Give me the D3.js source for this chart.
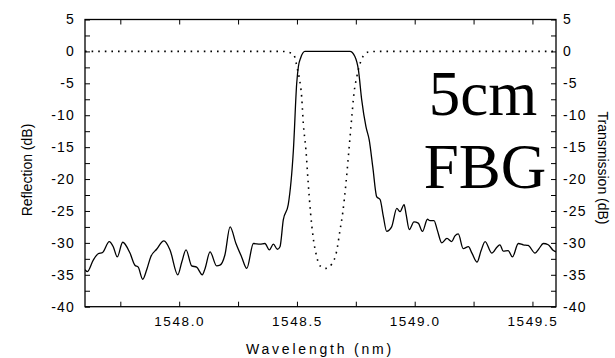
<!DOCTYPE html>
<html>
<head>
<meta charset="utf-8">
<script src="https://cdn.jsdelivr.net/npm/d3@7/dist/d3.min.js"></script>
<style>
  html, body { margin: 0; padding: 0; background: #fff; }
  svg { display: block; }
</style>
</head>
<body>
<script>
// Reflection spectrum of the grating (solid line), wavelength in nm and level in dB
const reflWavelength = [
  1547.600, 1547.610, 1547.635, 1547.656, 1547.675, 1547.703, 1547.720, 1547.737,
  1547.760, 1547.791, 1547.812, 1547.826, 1547.845, 1547.862, 1547.879, 1547.904,
  1547.935, 1547.961, 1547.994, 1548.011, 1548.029, 1548.053, 1548.074, 1548.098,
  1548.110, 1548.131, 1548.159, 1548.173, 1548.194, 1548.216, 1548.241, 1548.265,
  1548.287, 1548.315, 1548.343, 1548.364, 1548.383, 1548.400, 1548.417, 1548.428,
  1548.442, 1548.463, 1548.485, 1548.499, 1548.506, 1548.516, 1548.534, 1548.640,
  1548.725, 1548.746, 1548.761, 1548.775, 1548.793, 1548.807, 1548.822, 1548.839,
  1548.853, 1548.867, 1548.881, 1548.902, 1548.924, 1548.938, 1548.955, 1548.963,
  1548.977, 1548.997, 1549.015, 1549.033, 1549.054, 1549.065, 1549.082, 1549.096,
  1549.115, 1549.137, 1549.157, 1549.171, 1549.185, 1549.206, 1549.228, 1549.243,
  1549.265, 1549.282, 1549.299, 1549.327, 1549.351, 1549.362, 1549.376, 1549.397,
  1549.415, 1549.440, 1549.461, 1549.482, 1549.511, 1549.528, 1549.546, 1549.567,
  1549.589, 1549.600
];
const reflDb = [
  -34.2, -34.5, -32.7, -31.7, -31.5, -29.8, -30.6, -32.2,
  -29.9, -31.6, -33.5, -33.8, -35.7, -34.2, -32.2, -31.0,
  -29.7, -31.1, -35.0, -33.0, -31.1, -33.6, -33.8, -35.0,
  -34.0, -31.4, -33.6, -33.5, -31.9, -27.5, -30.1, -32.2,
  -34.0, -30.1, -30.2, -30.1, -31.1, -30.2, -31.0, -30.6,
  -26.4, -24.0, -15.4, -5.0, -2.4, -1.0, 0.0, 0.0,
  0.0, -0.8, -2.9, -7.6, -11.8, -13.9, -18.1, -22.8,
  -23.2, -25.9, -28.2, -27.5, -24.6, -25.1, -24.0, -25.4,
  -27.9, -26.7, -26.9, -28.2, -26.3, -26.5, -26.5, -28.0,
  -30.0, -29.3, -29.8, -28.9, -28.6, -30.9, -30.6, -31.6,
  -33.0, -31.2, -29.8, -31.6, -30.6, -30.3, -31.3, -31.2,
  -32.2, -30.1, -30.3, -30.4, -31.6, -30.9, -30.1, -30.3,
  -31.2, -31.4
];

// Transmission spectrum of the grating (dotted line)
const transWavelength = [
  1547.600, 1548.435, 1548.485, 1548.496, 1548.501, 1548.510, 1548.520, 1548.527,
  1548.538, 1548.548, 1548.558, 1548.569, 1548.581, 1548.598, 1548.623, 1548.648,
  1548.668, 1548.683, 1548.694, 1548.708, 1548.722, 1548.733, 1548.742, 1548.754,
  1548.768, 1548.782, 1548.803, 1548.839, 1549.600
];
const transDb = [
  0.0, 0.0, -0.4, -1.7, -2.6, -4.2, -7.1, -11.3,
  -15.4, -20.7, -25.4, -29.2, -31.7, -33.6, -34.0, -33.3,
  -31.4, -28.0, -25.4, -20.7, -14.9, -10.2, -6.6, -4.0,
  -1.9, -0.7, -0.1, 0.0, 0.0
];

// Axis ticks
const xMajorTicks = [1548.0, 1548.5, 1549.0, 1549.5];
const xAllTicks = [1547.75, 1548.0, 1548.25, 1548.5, 1548.75, 1549.0, 1549.25, 1549.5];
const yMajorTicks = [5, 0, -5, -10, -15, -20, -25, -30, -35, -40];
const yAllTicks = [5, 2.5, 0, -2.5, -5, -7.5, -10, -12.5, -15, -17.5, -20, -22.5,
                   -25, -27.5, -30, -32.5, -35, -37.5, -40];

const W = 615, H = 358;
const plot = { left: 85, right: 556, top: 19.5, bottom: 306.7 };

const svg = d3.select("body").append("svg")
  .attr("width", W).attr("height", H)
  .attr("viewBox", `0 0 ${W} ${H}`);

const x = d3.scaleLinear().domain([1547.6, 1549.6]).range([plot.left, plot.right]);
const yL = d3.scaleLinear().domain([-40, 5]).range([plot.bottom, plot.top]);
const yR = d3.scaleLinear().domain([-40, 5]).range([plot.bottom, plot.top]);

const tickFont = "Liberation Sans, Arial, sans-serif";

function styleAxis(g) {
  g.select(".domain").remove();
  g.selectAll(".tick line").attr("stroke", "#000").attr("stroke-width", 1);
  g.selectAll(".tick text")
    .attr("fill", "#000")
    .style("font-family", tickFont)
    .style("font-size", "13.5px");
}

// bottom axis with labels
svg.append("g")
  .attr("transform", `translate(0,${plot.bottom})`)
  .call(d3.axisBottom(x).tickValues(xAllTicks).tickSizeInner(-5).tickSizeOuter(0)
    .tickPadding(10)
    .tickFormat(d => xMajorTicks.includes(d) ? d.toFixed(1) : ""))
  .call(styleAxis)
  .call(g => g.selectAll(".tick text").style("letter-spacing", "1.6px"));

// top axis, ticks only
svg.append("g")
  .attr("transform", `translate(0,${plot.top})`)
  .call(d3.axisTop(x).tickValues(xAllTicks).tickSizeInner(-5).tickSizeOuter(0)
    .tickFormat(() => ""))
  .call(styleAxis);

// left axis (reflection)
svg.append("g")
  .attr("transform", `translate(${plot.left},0)`)
  .call(d3.axisLeft(yL).tickValues(yAllTicks).tickSizeInner(-5).tickSizeOuter(0)
    .tickPadding(10)
    .tickFormat(d => yMajorTicks.includes(d) ? String(d) : ""))
  .call(styleAxis)
  .call(g => g.selectAll(".tick text").style("font-size", "14px").style("letter-spacing", "1.2px"));

// right axis (transmission)
svg.append("g")
  .attr("transform", `translate(${plot.right},0)`)
  .call(d3.axisRight(yR).tickValues(yAllTicks).tickSizeInner(-5).tickSizeOuter(0)
    .tickPadding(7)
    .tickFormat(d => yMajorTicks.includes(d) ? String(d) : ""))
  .call(styleAxis)
  .call(g => g.selectAll(".tick text").style("font-size", "14px").style("letter-spacing", "1.2px"));

// frame
svg.append("rect")
  .attr("x", plot.left).attr("y", plot.top)
  .attr("width", plot.right - plot.left).attr("height", plot.bottom - plot.top)
  .attr("fill", "none").attr("stroke", "#000").attr("stroke-width", 1.3);

// curves
svg.append("clipPath").attr("id", "plot-clip")
  .append("rect")
  .attr("x", plot.left).attr("y", plot.top)
  .attr("width", plot.right - plot.left).attr("height", plot.bottom - plot.top);

const reflLine = d3.line()
  .x((d, i) => x(reflWavelength[i]))
  .y(d => yL(d))
  .curve(d3.curveMonotoneX);

const transLine = d3.line()
  .x((d, i) => x(transWavelength[i]))
  .y(d => yR(d))
  .curve(d3.curveMonotoneX);

const curves = svg.append("g").attr("clip-path", "url(#plot-clip)");

curves.append("path")
  .datum(transDb)
  .attr("d", transLine)
  .attr("fill", "none")
  .attr("stroke", "#000")
  .attr("stroke-width", 1.6)
  .attr("stroke-dasharray", "1.6,5");

curves.append("path")
  .datum(reflDb)
  .attr("d", reflLine)
  .attr("fill", "none")
  .attr("stroke", "#000")
  .attr("stroke-width", 1.3)
  .attr("stroke-linejoin", "round");

// annotation
const note = svg.append("text")
  .style("font-family", "Liberation Serif, Times New Roman, serif")
  .style("font-size", "63px")
  .attr("fill", "#000")
  .attr("text-anchor", "middle");
note.append("tspan").attr("x", 483).attr("y", 115).text("5cm");
note.append("tspan").attr("x", 485).attr("y", 188).text("FBG");

// axis titles
svg.append("text")
  .attr("transform", `translate(32,170) rotate(-90)`)
  .attr("text-anchor", "middle")
  .style("font-family", tickFont)
  .style("font-size", "14px")
  .text("Reflection (dB)");

svg.append("text")
  .attr("transform", `translate(598,168) rotate(90)`)
  .attr("text-anchor", "middle")
  .style("font-family", tickFont)
  .style("font-size", "14px")
  .text("Transmission (dB)");

svg.append("text")
  .attr("x", 320).attr("y", 354)
  .attr("text-anchor", "middle")
  .style("font-family", tickFont)
  .style("font-size", "14px")
  .style("letter-spacing", "2.8px")
  .text("Wavelength (nm)");
</script>
</body>
</html>
